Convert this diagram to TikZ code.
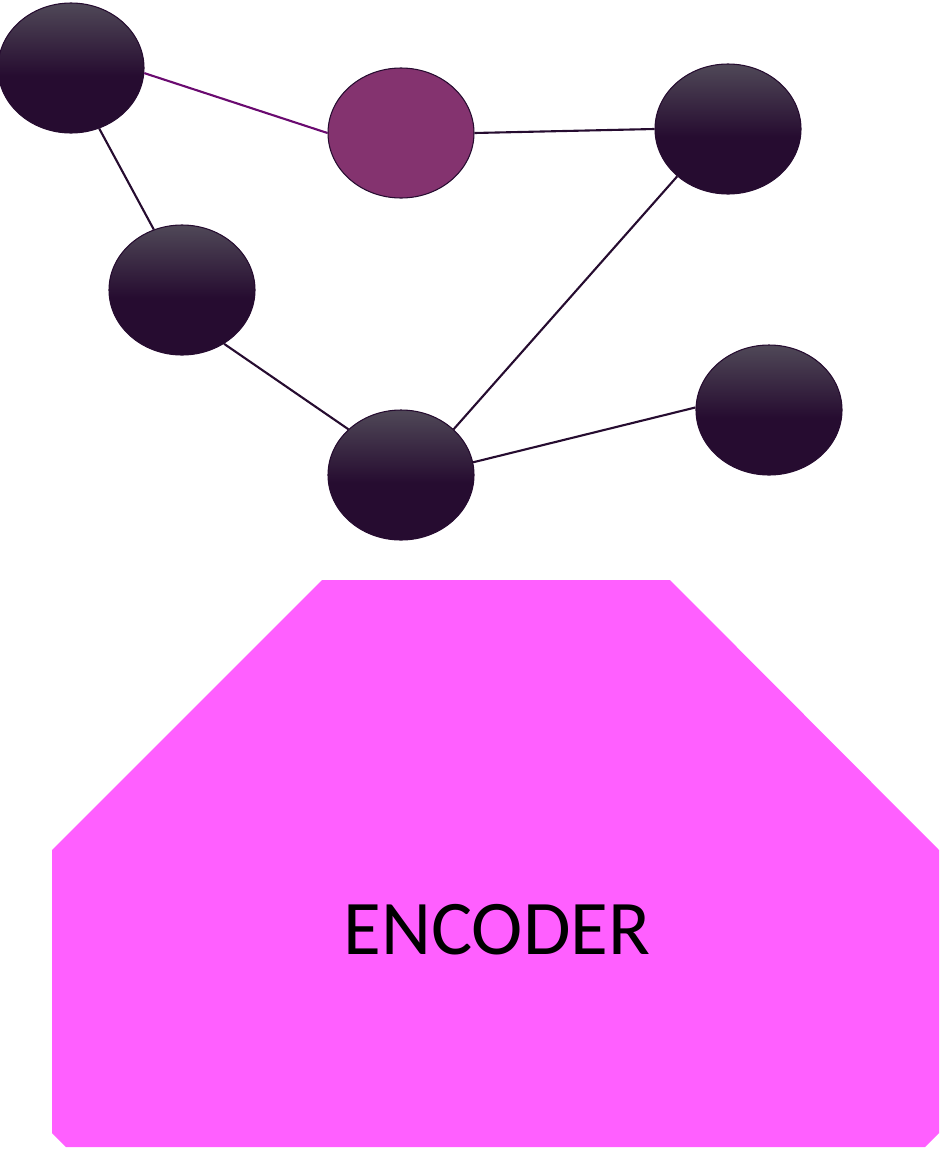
\documentclass[tikz,border=0pt]{standalone}
\usepackage{fontspec}
\setmainfont{Carlito}
\usepackage{tikz}
\usetikzlibrary{shapes.geometric}
\definecolor{nodetop}{HTML}{4E4656}
\definecolor{nodedark}{HTML}{260C30}
\definecolor{hilite}{HTML}{84336F}
\definecolor{hiliteedge}{HTML}{6A0A70}
\definecolor{encpink}{HTML}{FF5FFF}
\pgfdeclareverticalshading{nodeshade}{100bp}{color(0bp)=(nodedark); color(47bp)=(nodedark); color(74bp)=(nodetop); color(100bp)=(nodetop)}
\tikzset{
    gnode/.style={ellipse, draw=nodedark, line width=0.6pt, minimum width=29.2mm, minimum height=26mm,
        shading=nodeshade}, % dark graph node
    hnode/.style={ellipse, draw=nodedark, line width=0.6pt, minimum width=29.2mm, minimum height=26mm, fill=hilite}, % highlighted node
    link/.style={draw=nodedark, line width=1.2pt} % graph edge
}
\begin{document}
\begin{tikzpicture}[x=0.2mm, y=-0.2mm]
            \useasboundingbox (0,0) rectangle (939,1150);

            \node[gnode] (a) at (71,68) {};
            \node[hnode] (p) at (401,133) {};
            \node[gnode] (b) at (728,129) {};
            \node[gnode] (c) at (182,290) {};
            \node[gnode] (d) at (401,475) {};
            \node[gnode] (e) at (769,410) {};

            \draw[link, draw=hiliteedge] (a.-4) -- (p.west);
            \draw[link] (p.east) -- (b.west);
            \draw[link] (a.-65) -- (c.115);
            \draw[link] (c.-52) -- (d.139);
            \draw[link] (d.41) -- (b.-137);
            \draw[link] (d.10) -- (e.178);

            \fill[encpink] (322,580) -- (670,580) -- (939,850) -- (939,1133) -- (925,1147)
                -- (66,1147) -- (52,1133) -- (52,850) -- cycle;
            \node[font=\fontsize{44}{50}\selectfont] (enc) at (497,930) {ENCODER};
        \end{tikzpicture}
\end{document}
